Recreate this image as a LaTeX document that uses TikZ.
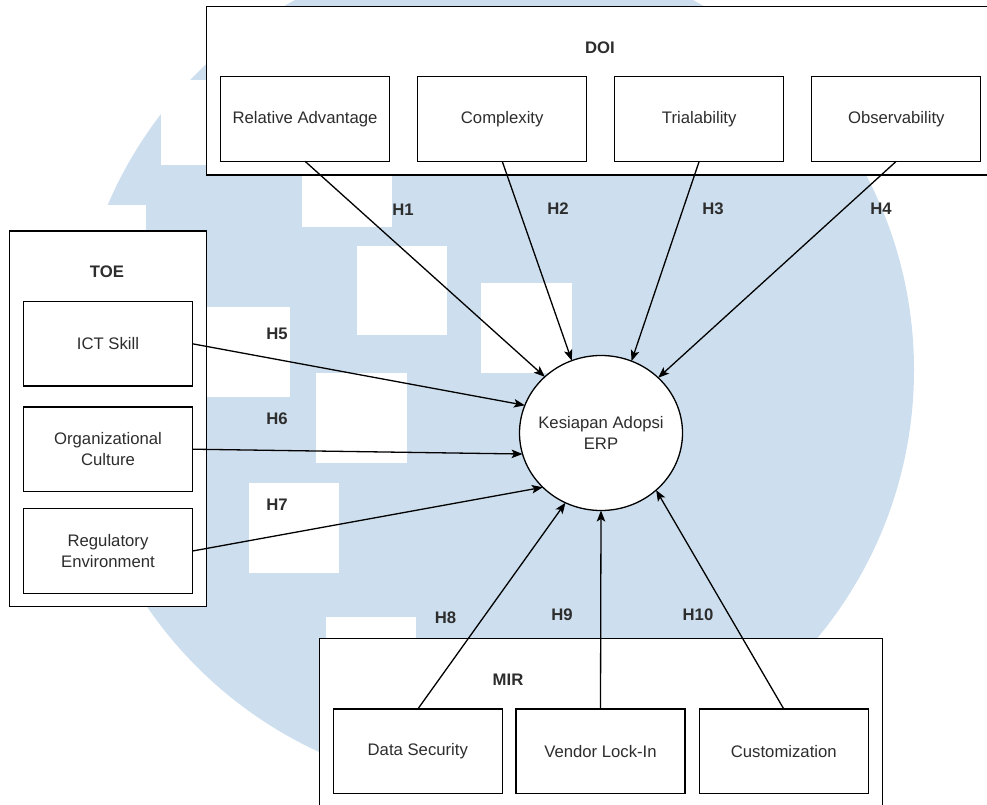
\documentclass[tikz,border=0pt]{standalone}
\usepackage{fontspec}
\setmainfont{Liberation Sans}
\usetikzlibrary{shapes.geometric,arrows.meta}
\definecolor{wmblue}{RGB}{205,223,238}
\definecolor{txt}{RGB}{45,45,45}
\begin{document}
\begin{tikzpicture}[x=1pt,y=-1pt,
  every node/.style={font=\fontsize{16.7}{20.5}\selectfont, text=txt},
  box/.style={draw, line width=1.3pt, fill=white, minimum width=169pt, minimum height=84.5pt, inner sep=0pt, outer sep=0pt, align=center},
  outerbox/.style={draw, line width=1.3pt, fill=white, inner sep=0pt, outer sep=0pt},
  lab/.style={font=\fontsize{16.7}{20.5}\selectfont\bfseries},
  arr/.style={line width=1.3pt, -{Stealth[length=11pt,width=8.5pt,inset=2.5pt]}}]
\useasboundingbox (0,0) rectangle (987,805);
\clip (0,0) rectangle (987,805);
% watermark
\fill[wmblue] (494,370) circle (420pt);
\fill[white] (161,80) rectangle (251,165);
\fill[white] (56,205) rectangle (146,295);
\fill[white] (302,137) rectangle (392,227);
\fill[white] (357,246) rectangle (447,335);
\fill[white] (481,283) rectangle (572,373);
\fill[white] (200,307) rectangle (290,397);
\fill[white] (316,373) rectangle (407,463);
\fill[white] (249,483) rectangle (339,573);
\fill[white] (326,617) rectangle (416,707);
% containers
\node[outerbox, minimum width=788.3pt, minimum height=168.7pt] (doi) at (600.85,90.65) {};
\node[outerbox, minimum width=197.4pt, minimum height=375.7pt] (toe) at (108,418.85) {};
\node[outerbox, minimum width=563pt, minimum height=176.3pt] (mir) at (600.8,726.85) {};
\node[lab] (doil) at (600,48) {DOI};
\node[lab] (toel) at (107,272) {TOE};
\node[lab] (mirl) at (508,680) {MIR};
% DOI
\node[box] (ra) at (305,119) {Relative Advantage};
\node[box] (cx) at (502.2,119) {Complexity};
\node[box] (tr) at (699.2,119) {Trialability};
\node[box] (ob) at (896.3,119) {Observability};
% TOE
\node[box] (ict) at (108,343.8) {ICT Skill};
\node[box] (oc) at (108,449.2) {Organizational\\Culture};
\node[box] (re) at (108,551) {Regulatory\\Environment};
% MIR
\node[box] (ds) at (417.8,751.3) {Data Security};
\node[box] (vl) at (600.5,751.3) {Vendor Lock-In};
\node[box] (cu) at (783.8,751.3) {Customization};
% center
\node[ellipse, draw, line width=1.3pt, fill=white, minimum width=163pt, minimum height=155pt, inner sep=0pt, outer sep=0pt, align=center] (erp) at (601,433) {\makebox[0pt]{Kesiapan Adopsi}\\\makebox[0pt]{ERP}};
% arrows
\draw[arr] (ra.south) -- (erp.135.7);
\draw[arr] (cx.south) -- (erp.112.3);
\draw[arr] (tr.south) -- (erp.67.9);
\draw[arr] (ob.south) -- (erp.44);
\draw[arr] (ict.east) -- (erp.160.4);
\draw[arr] (oc.east) -- (erp.195.1);
\draw[arr] (re.east) -- (erp.223.3);
\draw[arr] (ds.north) -- (erp.243.3);
\draw[arr] (vl.north) -- (erp.270);
\draw[arr] (cu.north) -- (erp.314.3);
% hypothesis labels
\node[lab] (h1) at (403,210) {H1};
\node[lab] (h2) at (558,209) {H2};
\node[lab] (h3) at (713,209) {H3};
\node[lab] (h4) at (881,209) {H4};
\node[lab] (h5) at (277,334) {H5};
\node[lab] (h6) at (277,419) {H6};
\node[lab] (h7) at (277,505) {H7};
\node[lab] (h8) at (445.5,617.3) {H8};
\node[lab] (h9) at (562,614.3) {H9};
\node[lab] (h10) at (698,614.3) {H10};
\end{tikzpicture}
\end{document}
